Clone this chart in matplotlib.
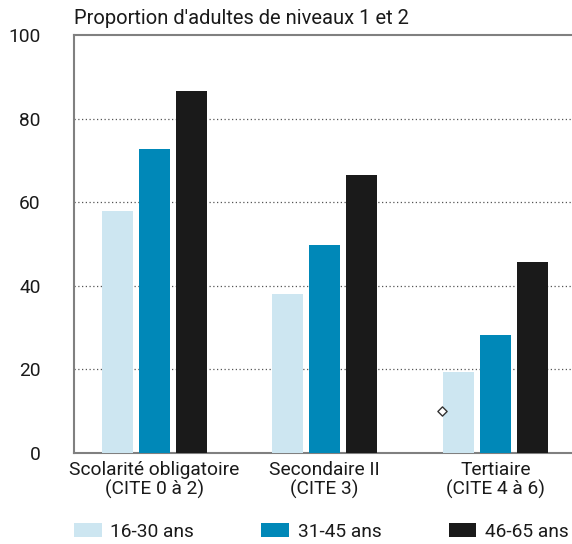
import numpy as np
import matplotlib
matplotlib.use("Agg")
import matplotlib.pyplot as plt
from matplotlib.patches import Patch

plt.rcParams['font.family'] = ['Roboto', 'DejaVu Sans']

# data
categories = ["Scolarité obligatoire\n(CITE 0 à 2)", "Secondaire II\n(CITE 3)", "Tertiaire\n(CITE 4 à 6)"]
series_names = ["16-30 ans", "31-45 ans", "46-65 ans"]
vals_16_30 = [58.0, 38.0, 19.4]
vals_31_45 = [72.8, 49.8, 28.2]
vals_46_65 = [86.6, 66.5, 45.7]
marker_val = 10.0  # hollow diamond, Tertiaire group
yticks = [0, 20, 40, 60, 80, 100]

colors = ["#cde6f1", "#0088b8", "#1a1a1a"]
fs = 13.8

fig = plt.figure(figsize=(5.72, 5.44), dpi=100)
ax = fig.add_axes([74 / 572, 1 - 453 / 544, 1 - 74 / 572, (453 - 35) / 544])

x = np.arange(len(categories))
w = 0.182
pitch = 0.217
for i, (vals, c) in enumerate(zip([vals_16_30, vals_31_45, vals_46_65], colors)):
    ax.bar(x + (i - 1) * pitch, vals, width=w, color=c, zorder=3, label=series_names[i])

ax.scatter([2 - pitch - w / 2 - 0.003], [marker_val], marker="D", s=22,
           facecolor="white", edgecolor="#333333", linewidth=1.0, zorder=4)

ax.set_ylim(0, 100)
ax.set_xlim(-0.47, 2.45)
ax.set_yticks(yticks)
ax.set_yticklabels([str(t) for t in yticks], fontsize=fs, color="#1a1a1a")
ax.set_xticks(x)
ax.set_xticklabels(categories, fontsize=fs, linespacing=1.05, color="#1a1a1a")
ax.tick_params(length=0)
ax.tick_params(axis="y", pad=24)
ax.tick_params(axis="x", pad=6)

for v in [20, 40, 60, 80]:
    ax.axhline(v, color="#555555", linestyle=(0, (1, 2)), linewidth=0.9, zorder=1)

for s in ["left", "top", "bottom"]:
    ax.spines[s].set_color("#808080")
    ax.spines[s].set_linewidth(1.5)
ax.spines["right"].set_visible(False)

fig.text(74 / 572, 1 - 19 / 544, "Proportion d'adultes de niveaux 1 et 2", fontsize=14.5,
         va="center", ha="left", color="#1a1a1a")

handles = [Patch(facecolor=c) for c in colors]
fig.legend(handles, series_names, loc="center left", bbox_to_anchor=(74 / 572, 1 - 532 / 544),
           ncol=3, frameon=False, fontsize=fs, handlelength=1.45, handleheight=0.75,
           columnspacing=3.5, handletextpad=0.45, borderaxespad=0, borderpad=0,
           labelcolor="#1a1a1a")

fig.savefig("out.png", dpi=100)
